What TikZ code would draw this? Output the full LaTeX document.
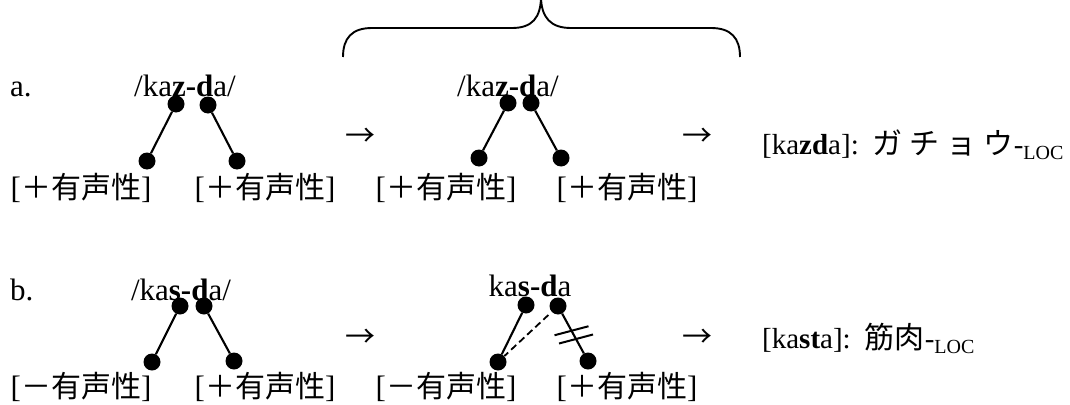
\documentclass[tikz,border=0pt]{standalone}
\usepackage{fontspec}
\setmainfont{Liberation Serif}
\newfontfamily\cjk{Noto Sans CJK JP}
\usetikzlibrary{calc}
\newcommand{\featlab}[1]{[{\fontsize{30}{30}\selectfont\cjk #1}]}
\begin{document}
\begin{tikzpicture}[x=1pt,y=-1pt,
  txt/.style={inner sep=0pt, font=\fontsize{31}{32}\selectfont},
  restxt/.style={inner sep=0pt, font=\fontsize{29}{30}\selectfont},
  feat/.style={inner sep=0pt, anchor=base, font=\fontsize{31}{32}\selectfont},
  dotnode/.style={circle, fill, inner sep=0pt, minimum size=17pt},
  assoc/.style={line width=2.1pt},
  delink/.style={line width=1.8pt, dash pattern=on 7pt off 4pt},
  arr/.style={inner sep=0pt, font=\fontsize{30}{30}\selectfont\cjk}]
\useasboundingbox (0,0) rectangle (1070,404);
\clip (0,0) rectangle (1070,404);

% brace
\draw[line width=1.9pt] (343,57) .. controls (343,38) and (352,28) .. (372,28)
  -- (512,28) .. controls (532,28) and (541,18) .. (541,-4);
\draw[line width=1.9pt] (740,57) .. controls (740,38) and (731,28) .. (711,28)
  -- (571,28) .. controls (551,28) and (541,18) .. (541,-4);

% ---------- row a ----------
\node[txt, anchor=base west] (la) at (10,96) {a.};
\node[txt, anchor=base] (wa1) at (185,96) {/ka\textbf{z-d}a/};
\node[dotnode] (a1u1) at (176,104) {};
\node[dotnode] (a1u2) at (208,105) {};
\node[dotnode] (a1l1) at (147,161) {};
\node[dotnode] (a1l2) at (237,161) {};
\draw[assoc] (a1u1) -- (a1l1);
\draw[assoc] (a1u2) -- (a1l2);
\node[feat] (fa1) at (81,198) {\featlab{＋有声性}};
\node[feat] (fa2) at (265,198) {\featlab{＋有声性}};

\node[arr] (arA1) at (360,137) {→};

\node[txt, anchor=base] (wa2) at (508,96) {/ka\textbf{z-d}a/};
\node[dotnode] (a2u1) at (508,103) {};
\node[dotnode] (a2u2) at (531,103) {};
\node[dotnode] (a2l1) at (479,158) {};
\node[dotnode] (a2l2) at (561,158) {};
\draw[assoc] (a2u1) -- (a2l1);
\draw[assoc] (a2u2) -- (a2l2);
\node[feat] (fa3) at (446,198) {\featlab{＋有声性}};
\node[feat] (fa4) at (627,198) {\featlab{＋有声性}};

\node[arr] (arA2) at (697,137) {→};

\node[restxt, anchor=base west] (ra) at (762,154) {[ka\textbf{zd}a]:\hspace{14pt}{\fontsize{30}{30}\selectfont\cjk ガ\hspace{7pt}チ\hspace{7pt}ョ\hspace{7pt}ウ}-{\fontsize{20}{20}\selectfont\raisebox{-5pt}{LOC}}};

% ---------- row b ----------
\node[txt, anchor=base west] (lb) at (10,300) {b.};
\node[txt, anchor=base] (wb1) at (181,300) {/ka\textbf{s-d}a/};
\node[dotnode] (b1u1) at (180,306) {};
\node[dotnode] (b1u2) at (204,306) {};
\node[dotnode] (b1l1) at (152,362) {};
\node[dotnode] (b1l2) at (234,361) {};
\draw[assoc] (b1u1) -- (b1l1);
\draw[assoc] (b1u2) -- (b1l2);
\node[feat] (fb1) at (81,397) {\featlab{－有声性}};
\node[feat] (fb2) at (265,397) {\featlab{＋有声性}};

\node[arr] (arB1) at (360,338) {→};

\node[txt, anchor=base] (wb2) at (530,296) {ka\textbf{s-d}a};
\node[dotnode] (b2u1) at (526,305) {};
\node[dotnode] (b2u2) at (558,306) {};
\node[dotnode] (b2l1) at (498,362) {};
\node[dotnode] (b2l2) at (588,361) {};
\draw[assoc] (b2u1) -- (b2l1);
\draw[assoc] (b2u2) -- (b2l2);
\draw[delink] ($(b2u2)!0.16!(b2l1)$) -- (b2l1);
\coordinate (cut1) at ($(b2u2)!0.45!(b2l2)$);
\coordinate (cut2) at ($(b2u2)!0.60!(b2l2)$);
\draw[line width=2pt] ($(cut1)+(-17,4.5)$) -- ($(cut1)+(17,-4.5)$);
\draw[line width=2pt] ($(cut2)+(-17,4.5)$) -- ($(cut2)+(17,-4.5)$);
\node[feat] (fb3) at (446,397) {\featlab{－有声性}};
\node[feat] (fb4) at (627,397) {\featlab{＋有声性}};

\node[arr] (arB2) at (697,338) {→};

\node[restxt, anchor=base west] (rb) at (762,348) {[ka\textbf{st}a]:\hspace{14pt}{\fontsize{30}{30}\selectfont\cjk 筋肉}-{\fontsize{20}{20}\selectfont\raisebox{-5pt}{LOC}}};
\end{tikzpicture}
\end{document}
